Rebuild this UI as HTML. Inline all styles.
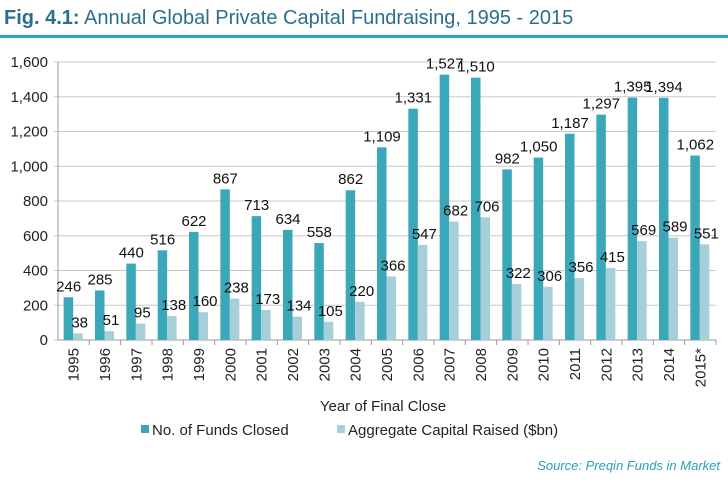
<!DOCTYPE html>
<html><head><meta charset="utf-8"><style>
body{margin:0;background:#fff;font-family:"Liberation Sans",sans-serif;}
svg text{font-family:"Liberation Sans",sans-serif;}
</style></head><body>
<svg id="c" width="728" height="480" xmlns="http://www.w3.org/2000/svg">
<text x="4" y="24" font-size="20" fill="#2b6f8c"><tspan font-weight="bold">Fig. 4.1:</tspan> Annual Global Private Capital Fundraising, 1995 - 2015</text>
<rect x="0" y="35" width="728" height="3" fill="#29a8c2"/>
<g id="plot"></g>
<text x="383" y="411" font-size="15" text-anchor="middle" fill="#222">Year of Final Close</text>
<g>
<rect x="141" y="425" width="8" height="8" fill="#3aa8b9"/>
<text x="152" y="435" font-size="15" fill="#222">No. of Funds Closed</text>
<rect x="337" y="425" width="8" height="8" fill="#a6cfd9"/>
<text x="348" y="435" font-size="15" fill="#222">Aggregate Capital Raised ($bn)</text>
</g>
<text x="720" y="470" font-size="13" font-style="italic" text-anchor="end" fill="#2aa0b8">Source: Preqin Funds in Market</text>
</svg>
<script>
const categories=["1995","1996","1997","1998","1999","2000","2001","2002","2003","2004","2005","2006","2007","2008","2009","2010","2011","2012","2013","2014","2015*"];
const funds=[246,285,440,516,622,867,713,634,558,862,1109,1331,1527,1510,982,1050,1187,1297,1395,1394,1062];
const capital=[38,51,95,138,160,238,173,134,105,220,366,547,682,706,322,306,356,415,569,589,551];
const yTicks=[0,200,400,600,800,1000,1200,1400,1600];
const NS="http://www.w3.org/2000/svg";
const g=document.getElementById('plot');
const x0=58,x1=716,yTop=62,yBot=340,yMax=1600;
const cw=(x1-x0)/categories.length;
const y=v=>yBot-(v/yMax)*(yBot-yTop);
function mk(t,a){const e=document.createElementNS(NS,t);for(const k in a)e.setAttribute(k,a[k]);g.appendChild(e);return e;}
const fmt=v=>v.toLocaleString('en-US');
yTicks.forEach(t=>{
 const l=mk('line',{x1:x0-4,x2:x1,y1:y(t),y2:y(t),stroke:'#c8c8c8','stroke-width':1});
 
 
 const tx=mk('text',{x:x0-10,y:y(t)+5,'font-size':15,'text-anchor':'end',fill:'#222'});
 tx.textContent=fmt(t);
 
 
});
const ax=mk('line',{x1:x0,x2:x0,y1:yTop,y2:yBot,stroke:'#999'});


const xa=mk('line',{x1:x0,x2:x1,y1:yBot,y2:yBot,stroke:'#999'});


const bw=9.5;
categories.forEach((c,i)=>{
 const cx=x0+cw*i+cw/2;
 const tk=mk('line',{x1:x0+cw*(i+1),x2:x0+cw*(i+1),y1:yBot,y2:yBot+5,stroke:'#999'});
 
 
 const b1=mk('rect',{x:cx-bw-0.5,y:y(funds[i]),width:bw,height:yBot-y(funds[i]),fill:'#3aa8b9'});
 
 
 const b2=mk('rect',{x:cx-0.5,y:y(capital[i]),width:bw,height:yBot-y(capital[i]),fill:'#a6cfd9'});
 
 
 const l1=mk('text',{x:cx-5,y:y(funds[i])-6,'font-size':15,'text-anchor':'middle',fill:'#111'});
 l1.textContent=fmt(funds[i]);
 
 
 const l2=mk('text',{x:cx+6,y:y(capital[i])-6,'font-size':15,'text-anchor':'middle',fill:'#111'});
 l2.textContent=fmt(capital[i]);
 
 
 const xl=mk('text',{x:0,y:0,'font-size':15,'text-anchor':'end',fill:'#222',transform:`translate(${cx+5},${yBot+8}) rotate(-90)`});
 xl.textContent=c;
 
 
});
</script>
</body></html>
